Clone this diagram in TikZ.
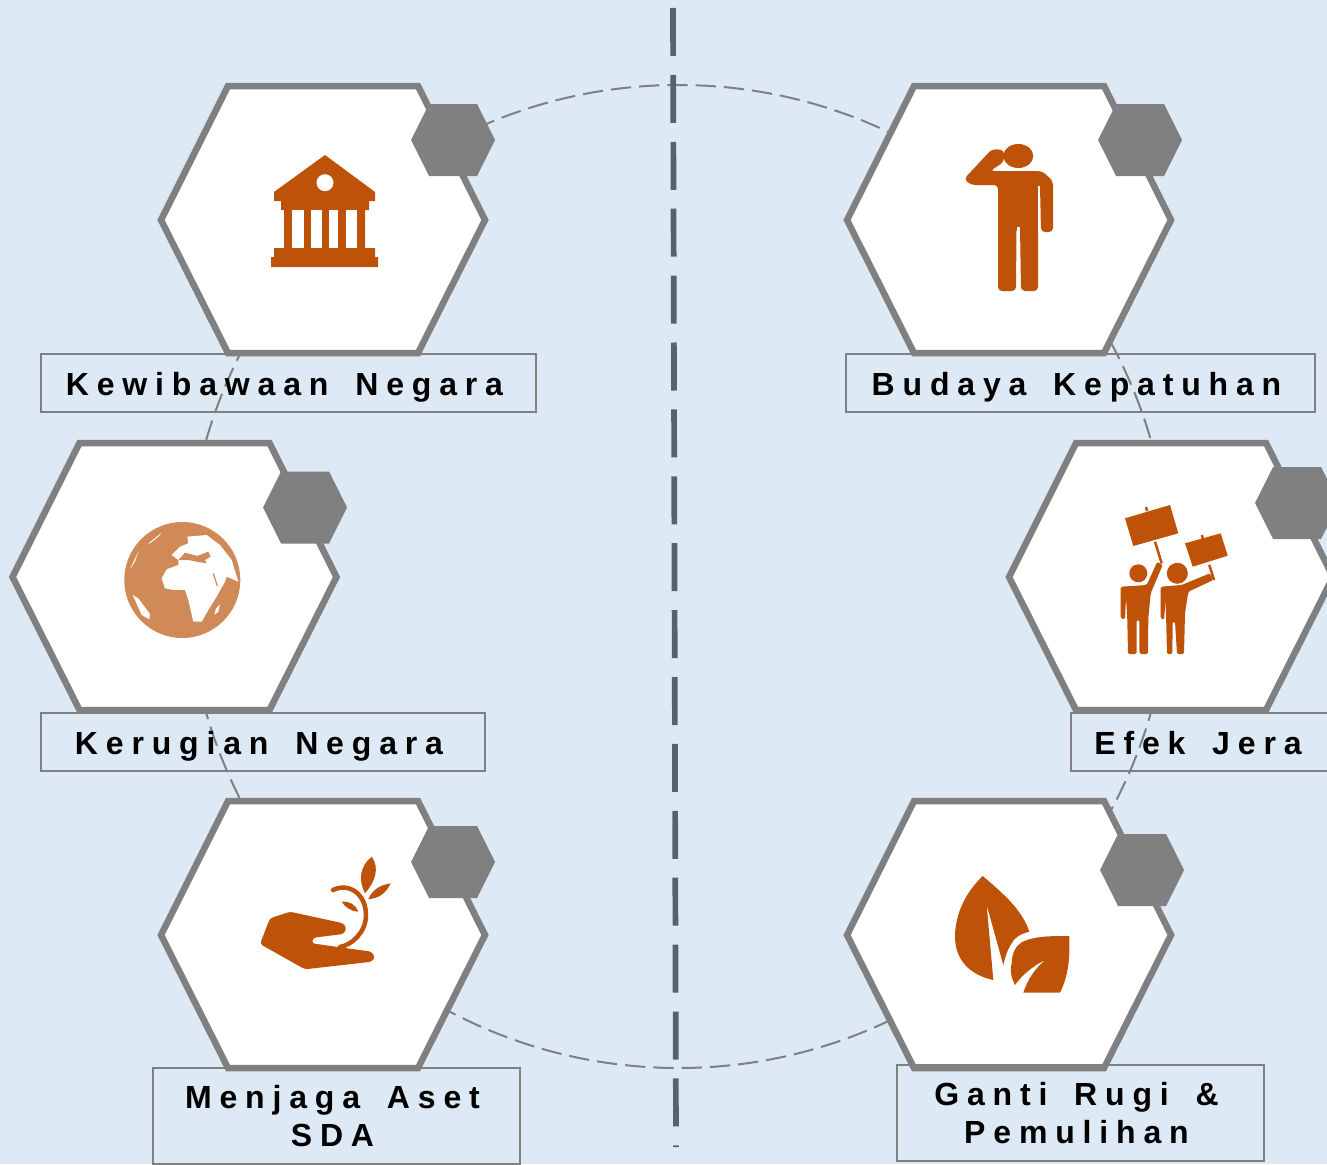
\documentclass[tikz,border=0pt]{standalone}
\usepackage{fontspec}
\setmainfont{Liberation Sans}[LetterSpace=24.5, WordSpace=1.6]
\usepackage{tikz}
\usetikzlibrary{shapes.geometric, arrows}
\definecolor{bg-blue}{HTML}{DDE9F5}
\definecolor{hex-gray}{HTML}{808080}
\definecolor{icon-orange}{HTML}{BE5208}
\definecolor{globe-orange}{HTML}{D08A58}
\definecolor{axis-gray}{HTML}{56646A}
\tikzset{
  bighex/.style={draw=hex-gray, fill=white, line width=6.5pt},
  smallhex/.style={fill=hex-gray},
  labelbox/.style={draw=hex-gray, line width=2.7pt, inner sep=0pt, align=center, text=black,
    font=\bfseries\fontsize{32}{37.5}\selectfont},
  oneline/.style={labelbox, minimum height=58pt, text height=27pt, text depth=3pt},
  twolines/.style={labelbox, minimum width=367pt, minimum height=96pt},
  icon/.style={fill=icon-orange, draw=none}
}
\newcommand{\bighexagon}[2]{\draw[bighex, shift={(#1,#2)}] (-162,0) -- (-95,-134) -- (95,-134) -- (162,0) -- (95,133) -- (-95,133) -- cycle;}
\newcommand{\smallhexagon}[2]{\fill[smallhex, shift={(#1,#2)}] (-42,0) -- (-24,-36) -- (24,-36) -- (42,0) -- (24,36) -- (-24,36) -- cycle;}

\begin{document}
\begin{tikzpicture}[x=1pt, y=-1pt]
 \useasboundingbox (0,0) rectangle (1327,1164);
 \clip (0,0) rectangle (1327,1164);
 \fill[bg-blue] (0,0) rectangle (1327,1164);
 %ring and middle axis
 \node (ring) [circle, draw=hex-gray, line width=2pt, dash pattern=on 20.3pt off 8pt, dash phase=1.1pt, minimum size=983pt, inner sep=0pt] at (678.5,576.5) {};
 \coordinate (axistop) at (673,8);
 \coordinate (axisbottom) at (676,1147);
 \draw[axis-gray, line width=5.7pt, dash pattern=on 48pt off 18.9pt] (axistop) -- (axisbottom);
 %big hexagons
 \bighexagon{323}{220}
 \bighexagon{174.5}{577}
 \bighexagon{323}{935}
 \bighexagon{1009}{220}
 \bighexagon{1171}{577}
 \bighexagon{1009}{935}
 %bank
 \fill[icon] (325,155) -- (375,192) -- (375,201) -- (369,201) -- (369,210) -- (365,210) -- (365,248) -- (375,248) -- (375,257) -- (378,257) -- (378,267) -- (271,267) -- (271,257) -- (274,257) -- (274,248) -- (284,248) -- (284,210) -- (281,210) -- (281,201) -- (274,201) -- (274,192) -- cycle;
 \fill[white] (325,182.7) circle [radius=8.5];
 \fill[white] (292,210) rectangle (304,248);
 \fill[white] (311,210) rectangle (322,248);
 \fill[white] (329,210) rectangle (338,248);
 \fill[white] (346,210) rectangle (357,248);
 %globe
 \fill[globe-orange] (182.3,580) circle [radius=58];
 \begin{scope}[shift={(110,510)}, x=0.3333pt, y=-0.3333pt]
  \fill[white] (155,205) -- (170,178) -- (205,165) -- (205,150) -- (185,135) -- (210,110) -- (235,100) -- (232,80) -- (290,75) -- (330,105) -- (365,150) -- (385,215) -- (350,200) -- (345,215) -- (320,260) -- (295,300) -- (275,335) -- (250,335) -- (235,270) -- (225,240) -- (190,240) -- (165,235) -- cycle;
  \fill[globe-orange] (205,150) -- (225,128) -- (262,138) -- (295,125) -- (302,140) -- (285,150) -- (290,160) -- (260,155) -- (235,150) -- cycle;
  \draw[globe-orange, line width=1.2pt] (310,190) -- (322,228);
  \fill[white] (68,255) -- (85,265) -- (120,312) -- (118,328) -- (95,315) -- cycle;
  \fill[white] (330,283) -- (325,305) -- (313,315) -- (318,295) -- cycle;
  \fill[white] (115,100) -- (155,68) -- (145,80) -- (120,100) -- cycle;
  \fill[white] (60,178) -- (85,125) -- (75,155) -- cycle;
 \end{scope}
 %sprout in hand
 \fill[icon, rounded corners=3pt] (260,944) -- (270,918.3) -- (290,911.7) -- (343.3,923.3) -- (346.7,928.3) -- (343.3,934) -- (313.3,937.7) -- (311.7,943.3) -- (340,947.3) -- (371.7,951.7) -- (375,957.3) -- (371.7,961.7) -- (305,969.3) -- cycle;
 \draw[icon-orange, line width=4.5pt, line cap=round] (333,890) .. controls (350,882) and (366,895) .. (366,915) .. controls (366,932) and (352,945) .. (340,947);
 \fill[icon] (371.7,856.7) .. controls (380,868) and (375,882) .. (365,893.3) .. controls (358,880) and (360,866) .. (371.7,856.7) -- cycle;
 \fill[icon] (390.7,883.3) .. controls (385,895) and (378,898) .. (368.3,899.3) .. controls (372,890) and (380,885) .. (390.7,883.3) -- cycle;
 \fill[icon] (341.7,901.7) .. controls (350,901) and (356,905) .. (358.3,911.7) .. controls (350,911) and (345,907) .. (341.7,901.7) -- cycle;
 %saluting man
 \fill[icon] (1018.3,156) ellipse [x radius=15, y radius=12];
 \fill[icon, rounded corners=4pt] (964,179) -- (992,149) -- (1004,150) -- (1004,162) -- (990,171) -- (1042,171) -- (1053,181) -- (1053,232) -- (1041,232) -- (1040,186) -- (1038,186) -- (1038,291) -- (1021,291) -- (1020,227) -- (1016.5,227) -- (1016,291) -- (998,291) -- (998,185) -- (971,185) -- cycle;
 \draw[white, line width=1.5pt] (1039,186) -- (1039,230);
 \fill[white] (1016.8,227) rectangle (1020.2,292);
 %protesters
 \fill[icon] (1125,518.3) -- (1170,505) -- (1178.3,533.3) -- (1133.3,546) -- cycle;
 \draw[icon-orange, line width=2.5pt] (1155,541.7) -- (1161.7,563.3);
 \draw[icon-orange, line width=2.5pt] (1146,507) -- (1147,511);
 \fill[icon] (1185,543.3) -- (1220.7,533.3) -- (1227.7,555.7) -- (1192.7,566.7) -- cycle;
 \draw[icon-orange, line width=2.5pt] (1209.3,565) -- (1214,580);
 \draw[icon-orange, line width=2.5pt] (1202,535) -- (1203,540);
 \fill[icon] (1138.3,573.3) circle [radius=9];
 \fill[icon] (1177.3,573.3) circle [radius=10.5];
 \fill[icon, rounded corners=1.5pt] (1120.7,586.7) -- (1146.7,585) -- (1157.3,561.7) -- (1162.7,565) -- (1150.7,593.3) -- (1148.3,618.3) -- (1148,654) -- (1139.5,654) -- (1139.3,620) -- (1136.7,620) -- (1136.5,654) -- (1128,654) -- (1127.3,620) -- (1126,597) -- (1125,619.3) -- (1120.7,618.3) -- cycle;
 \fill[icon, rounded corners=1.5pt] (1160.7,586.7) -- (1181.7,585) -- (1210,573.3) -- (1213.3,580) -- (1188.3,591.7) -- (1185,613.3) -- (1184,654) -- (1177,654) -- (1175,621.7) -- (1172.7,621.7) -- (1172.3,654) -- (1167,654) -- (1166,613.3) -- (1165.7,600) -- (1164,620) -- (1160.7,618.3) -- cycle;
 %two leaves
 \fill[icon] (982.7,876) .. controls (1005,895) and (1022,910) .. (1029.3,931.7) .. controls (1020,934) and (1014,938) .. (1011.7,943.3) .. controls (1007,950) and (1005,958) .. (1003.3,965) -- (986.7,905) -- (993.3,980) .. controls (970,975) and (955,960) .. (955,936.7) .. controls (955,915) and (965,893) .. (982.7,876) -- cycle;
 \fill[icon] (1069.3,936) .. controls (1070,955) and (1069,975) .. (1060,992.7) -- (1023.3,992.7) .. controls (1028,978) and (1036,968) .. (1045,960) .. controls (1033,966) and (1022,975) .. (1015,985) .. controls (1010,975) and (1010,968) .. (1011.7,963.3) .. controls (1012,952) and (1016,946) .. (1022,942) .. controls (1035,936) and (1050,936) .. (1069.3,936) -- cycle;
 %small hexagons
 \smallhexagon{453}{140}
 \smallhexagon{305}{507.5}
 \smallhexagon{453}{862}
 \smallhexagon{1140}{140}
 \smallhexagon{1297}{503}
 \smallhexagon{1142}{870}
 %labels
 \node (kewibawaan) [oneline, minimum width=495pt] at (288.5,383) {Kewibawaan Negara\kern8pt};
 \node (kerugian) [oneline, minimum width=444pt] at (263,742) {Kerugian Negara\kern8pt};
 \node (aset) [twolines] at (336.5,1116) {\raisebox{-3pt}{Menjaga Aset\kern8pt}\\\raisebox{-3pt}{SDA\kern8pt}};
 \node (kepatuhan) [oneline, minimum width=469pt] at (1080.5,383) {Budaya Kepatuhan\kern8pt};
 \node (jera) [oneline, minimum width=262pt] at (1202,742) {Efek Jera\kern8pt};
 \node (rugi) [twolines] at (1080.5,1113) {\raisebox{-1pt}{Ganti Rugi \&\kern8pt}\\\raisebox{-1pt}{Pemulihan\kern8pt}};
\end{tikzpicture}
\end{document}
